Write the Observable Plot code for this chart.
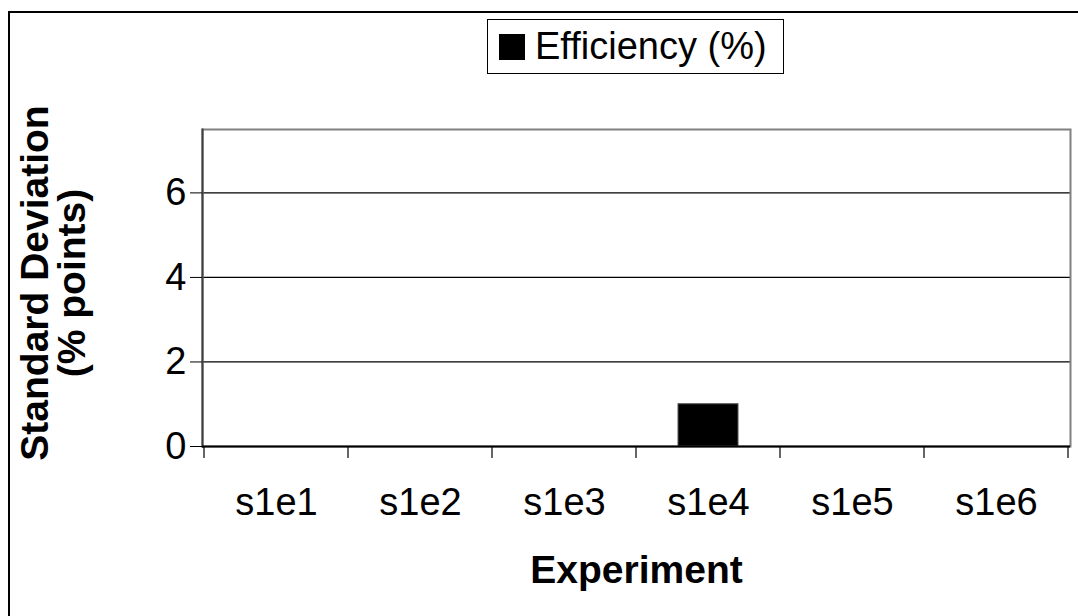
<!DOCTYPE html>
<html>
<head>
<meta charset="utf-8">
<script src="https://cdn.jsdelivr.net/npm/d3@7"></script>
<script src="https://cdn.jsdelivr.net/npm/@observablehq/plot@0.6"></script>
<style>
  html, body { margin: 0; padding: 0; background: #fff; }
  #wrap { position: relative; width: 1078px; height: 616px; overflow: hidden; font-family: "Liberation Sans", Arial, sans-serif; }
  #frame { position: absolute; left: 8px; top: 11px; width: 1100px; height: 700px; border: 2px solid #000; box-sizing: border-box; pointer-events: none; }
  #legend { position: absolute; left: 487px; top: 19px; width: 297px; height: 55px; border: 1px solid #000; box-sizing: border-box; background: #fff; display: flex; align-items: center; font-size: 38px; color: #000; z-index: 2; white-space: nowrap; }
  #legend .sw { width: 26px; height: 26px; background: #000; margin-left: 11px; margin-right: 10px; flex: none; }
  #chart { position: absolute; left: 0; top: 0; }
</style>
</head>
<body>
<div id="wrap">
  <div id="chart"></div>
  <div id="frame"></div>
  <div id="legend"><div class="sw"></div><span id="legtext"></span></div>
</div>
<script>
const categories = ["s1e1", "s1e2", "s1e3", "s1e4", "s1e5", "s1e6"];
const efficiencySD = [0, 0, 0, 1, 0, 0];
const yTicks = [0, 2, 4, 6];
const gridValues = [2, 4, 6];
const seriesName = "Efficiency (%)";
const yTitle = "Standard Deviation\n(% points)";
const xTitle = "Experiment";

document.getElementById("legtext").textContent = seriesName;

const data = categories.map((c, i) => ({cat: c, value: efficiencySD[i]}));

function boundaryTicks(index, scales) {
  const x = scales.x, y = scales.y;
  const bw = x.bandwidth ? x.bandwidth() : 0;
  const g = d3.create("svg:g").attr("stroke", "#000").attr("stroke-width", 1.2);
  const edges = categories.map(c => x(c)).concat([x(categories[categories.length - 1]) + bw]);
  const y0 = y(0);
  for (const e of edges) {
    g.append("line").attr("x1", e).attr("x2", e).attr("y1", y0).attr("y2", y0 + 12);
  }
  return g.node();
}

const chart = Plot.plot({
  width: 1078,
  height: 616,
  marginLeft: 202,
  marginRight: 8,
  marginTop: 129,
  marginBottom: 170,
  style: { fontFamily: "Liberation Sans, Arial, sans-serif", background: "transparent", overflow: "visible" },
  x: { type: "band", domain: categories, padding: 0, label: null },
  y: { domain: [0, 7.5], label: null },
  marks: [
    Plot.ruleY(gridValues, { stroke: "#000", strokeWidth: 1.2 }),
    Plot.frame({ stroke: "#808080", strokeWidth: 2 }),
    Plot.barY(data, { x: "cat", y: "value", fill: "#000", stroke: "#555", strokeWidth: 1, insetLeft: 42, insetRight: 42 }),
    Plot.frame({ anchor: "left", stroke: "#404040", strokeWidth: 2 }),
    Plot.ruleY([0], { stroke: "#000", strokeWidth: 2 }),
    Plot.axisY({ ticks: yTicks, tickSize: 12, tickPadding: 4, fontSize: 38, stroke: "#000", tickFormat: d => String(d), label: null }),
    Plot.axisX({ tickSize: 0, tickPadding: 42, fontSize: 38, label: null }),
    boundaryTicks,
    Plot.text([yTitle], { frameAnchor: "left", textAnchor: "middle", text: d => d, rotate: -90, dx: -148, dy: -5, fontSize: 39, fontWeight: "bold", lineHeight: 0.95 }),
    Plot.text([xTitle], { frameAnchor: "bottom", textAnchor: "middle", text: d => d, dy: 136, fontSize: 39, fontWeight: "bold" })
  ]
});
document.getElementById("chart").appendChild(chart);
</script>
</body>
</html>
